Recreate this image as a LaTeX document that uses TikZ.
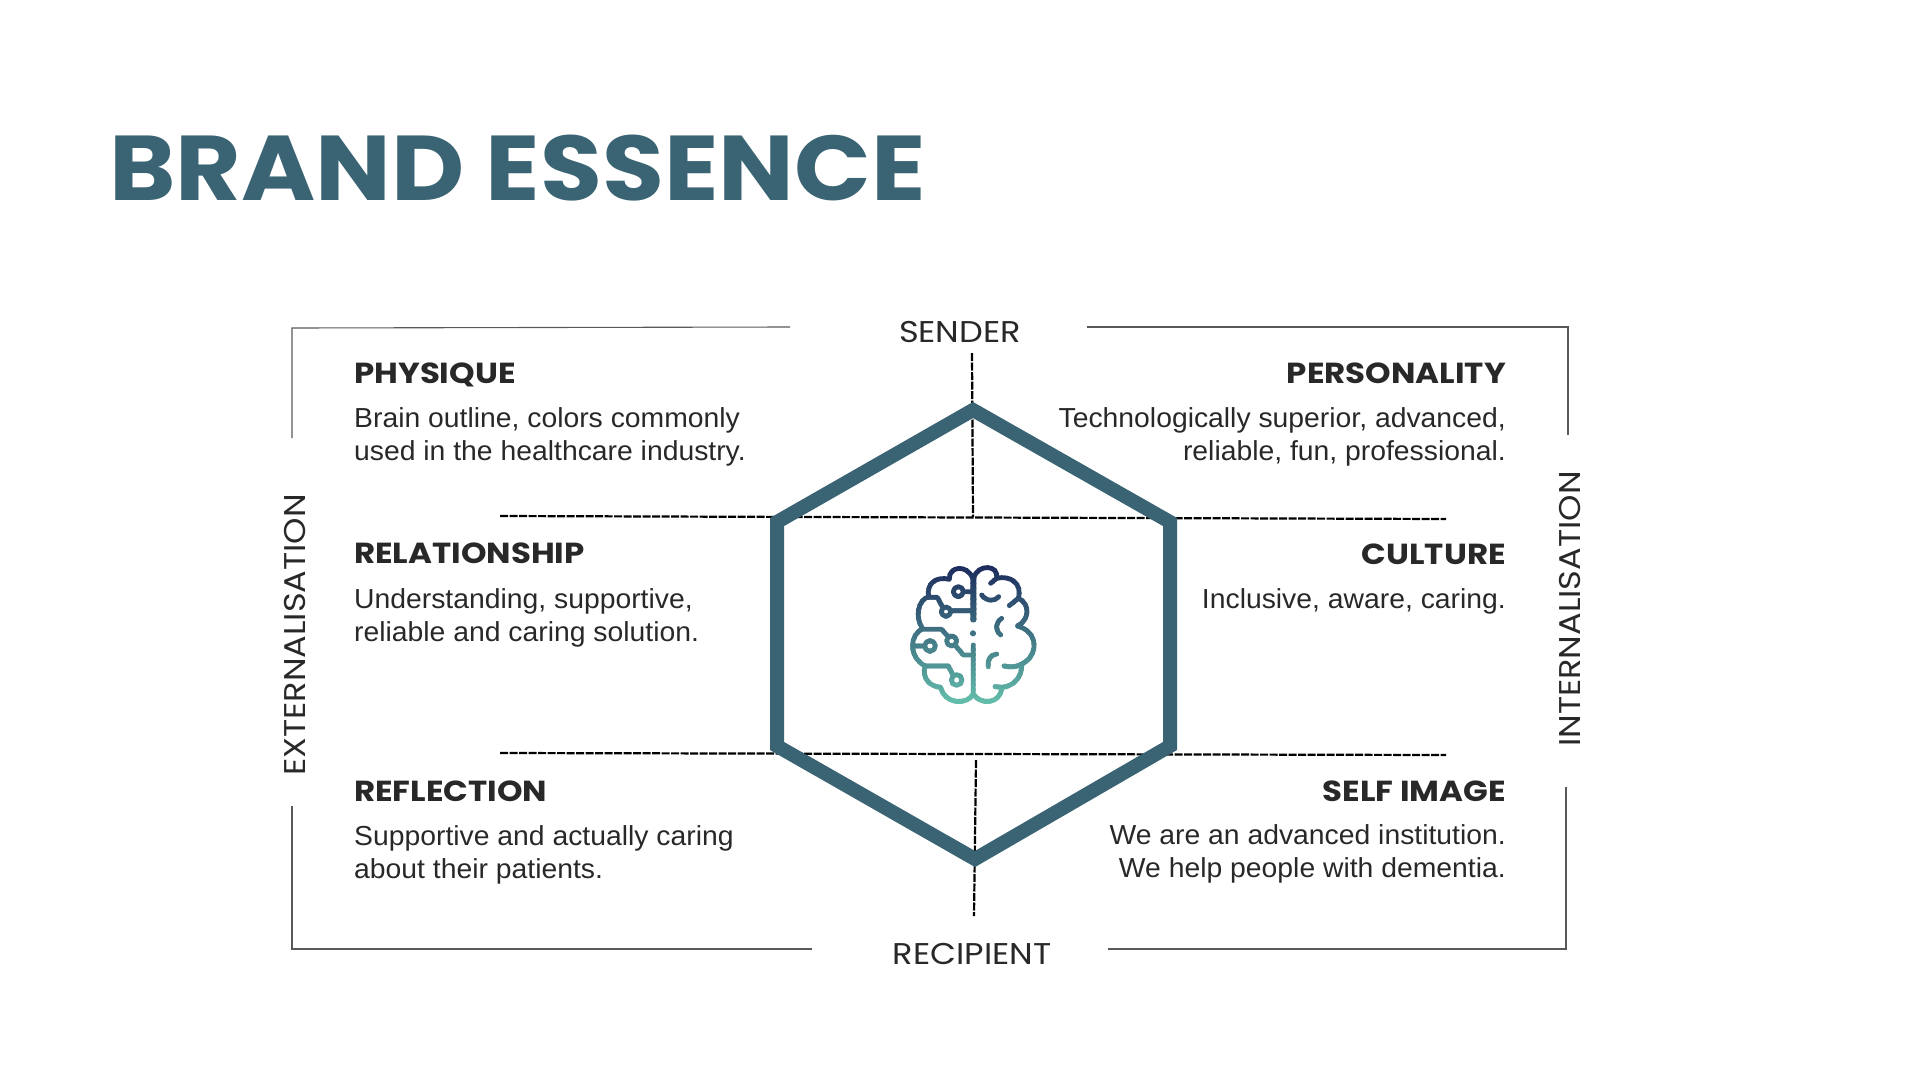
\documentclass[tikz,border=0pt]{standalone}
\usepackage{fontspec}
\setmainfont[FakeStretch=1.03]{Liberation Sans}
\newfontfamily\headfont[FakeStretch=1.12]{Poppins}
\newfontfamily\titlefont[FakeStretch=1.095]{Poppins}
\usepackage{xcolor}
\usetikzlibrary{positioning,calc}
\definecolor{hexteal}{RGB}{58,100,115}
\definecolor{inkgray}{RGB}{40,40,40}
\definecolor{brainnavy}{RGB}{28,42,92}
\definecolor{brainmint}{RGB}{104,198,176}
\newcommand{\brainlines}[1]{%
    \draw[#1] (278,240) -- (278,115) .. controls (262,72) and (205,78) .. (208,118)
        .. controls (170,108) and (138,130) .. (146,170) .. controls (112,180) and (105,235) .. (128,266)
        .. controls (88,285) and (85,350) .. (135,378) .. controls (125,415) and (150,440) .. (182,442)
        .. controls (195,495) and (262,495) .. (280,462) -- (280,315);
    \draw[#1] (280,462) .. controls (300,495) and (360,495) .. (366,442)
        .. controls (400,440) and (428,410) .. (425,372) .. controls (475,350) and (478,275) .. (412,258)
        .. controls (450,240) and (450,190) .. (415,175) .. controls (428,130) and (390,105) .. (350,115)
        .. controls (358,75) and (295,70) .. (282,112) -- (282,240);
    \draw[#1] (350,115) -- (332,130);
    \draw[#1] (415,175) -- (388,197);
    \draw[#1] (425,372) .. controls (410,382) and (390,382) .. (372,378);
    \draw[#1] (366,442) -- (345,440);
    \draw[#1] (305,165) .. controls (320,185) and (345,185) .. (356,170);
    \draw[#1] (365,235) .. controls (345,250) and (345,270) .. (362,285);
    \draw[#1] (350,342) .. controls (330,345) and (322,360) .. (325,380);
    \draw[#1] (235,155) circle[radius=15] (250,155) -- (278,155);
    \draw[#1] (198,215) circle[radius=14] (212,212) -- (278,212);
    \draw[#1] (146,172) -- (172,172) -- (189,204);
    \draw[#1] (215,303) circle[radius=15] (205,291) -- (185,268) -- (128,268);
    \draw[#1] (225,315) -- (250,345) -- (280,345);
    \draw[#1] (150,318) circle[radius=16] (134,318) -- (100,318);
    \draw[#1] (230,420) circle[radius=16] (220,407) -- (205,378) -- (135,378);
    \draw[#1] (279,280) circle[radius=2];
}
\begin{document}
\begin{tikzpicture}[x=1pt,y=-1pt,
    headlabel/.style={font=\headfont\bfseries\fontsize{29}{34}\selectfont, text=inkgray, inner sep=0pt},
    bodytext/.style={font=\fontsize{27.5}{33}\selectfont, text=inkgray, inner sep=0pt},
    axislabel/.style={font=\headfont\fontsize{30}{34}\selectfont, text=inkgray, inner sep=0pt},
    frameline/.style={draw=black!65, line width=1.1pt},
    guideline/.style={draw=black, line width=2.2pt, dash pattern=on 8pt off 1.5pt},
    hexline/.style={draw=hexteal, line width=14pt, miter limit=10}
]
    \useasboundingbox (0,0) rectangle (1920,1071);
    \node[font=\titlefont\bfseries\fontsize{92}{100}\selectfont, text=hexteal, inner sep=0pt, anchor=base west] (title) at (109,200) {BRAND ESSENCE};

    % corners of the frame and ends of the guides
    \coordinate (tl) at (292,328);
    \coordinate (tr) at (1568,327);
    \coordinate (bl) at (292,949);
    \coordinate (br) at (1566,949);
    \draw[frameline] (790,327) -- (tl) -- (292,438);
    \draw[frameline] (1087,327) -- (tr) -- (1568,435);
    \draw[frameline] (812,949) -- (bl) -- (292,806);
    \draw[frameline] (1108,949) -- (br) -- (1566,787);

    \coordinate (hn) at (973,410);
    \coordinate (hne) at (1170,522);
    \coordinate (hse) at (1170,746);
    \coordinate (hs) at (975,859);
    \coordinate (hsw) at (777,746);
    \coordinate (hnw) at (777,522);
    \coordinate (gul) at (500,516);
    \coordinate (gur) at (1446,519);
    \coordinate (gll) at (500,753);
    \coordinate (glr) at (1446,755);
    \coordinate (gtop) at (972,353);
    \coordinate (gtopend) at (973,517);
    \coordinate (gbot) at (976,760);
    \coordinate (gbotend) at (974,916);
    \draw[guideline] (gul) -- (gur);
    \draw[guideline] (gll) -- (glr);
    \draw[guideline] (gtop) -- (gtopend);
    \draw[guideline] (gbot) -- (gbotend);
    \draw[hexline] (hn) -- (hne) -- (hse) -- (hs) -- (hsw) -- (hnw) -- cycle;

    % brain drawn in thin bands for the colour run
    \foreach \band in {0,1,...,29}{
        \pgfmathsetmacro{\mixval}{100-\band*100/29}
        \colorlet{bandcolor}{brainnavy!\mixval!brainmint}
        \begin{scope}[shift={(880,540)},x=0.3333pt,y=-0.3333pt]
            \clip (60,{70+\band*15}) rectangle (500,{70+(\band+1)*15.3});
            \brainlines{draw=bandcolor, line width=4.8pt, line cap=round, line join=round}
        \end{scope}
    }

    \node[axislabel, anchor=base] (sender) at (960,342) {SENDER};
    \node[axislabel, anchor=base] (recipient) at (972,964) {RECIPIENT};
    \node[axislabel, rotate=90] (externalisation) at (295,635) {EXTERNALISATION};
    \node[axislabel, rotate=90] (internalisation) at (1570,609) {INTERNALISATION};

    \node[headlabel, anchor=base west] (physique) at (354,383) {PHYSIQUE};
    \node[bodytext, anchor=base west, align=left] (physiquetxt) at (354,460) {Brain outline, colors commonly\\used in the healthcare industry.};
    \node[headlabel, anchor=base west] (relationship) at (354,563) {RELATIONSHIP};
    \node[bodytext, anchor=base west, align=left] (relationshiptxt) at (354,641) {Understanding, supportive,\\reliable and caring solution.};
    \node[headlabel, anchor=base west] (reflection) at (354,801) {REFLECTION};
    \node[bodytext, anchor=base west, align=left] (reflectiontxt) at (354,878) {Supportive and actually caring\\about their patients.};

    \node[headlabel, anchor=base east] (personality) at (1506,383) {PERSONALITY};
    \node[bodytext, anchor=base east, align=right] (personalitytxt) at (1506,460) {Technologically superior, advanced,\\reliable, fun, professional.};
    \node[headlabel, anchor=base east] (culture) at (1506,564) {CULTURE};
    \node[bodytext, anchor=base east, align=right] (culturetxt) at (1506,608) {Inclusive, aware, caring.};
    \node[headlabel, anchor=base east] (selfimage) at (1506,801) {SELF IMAGE};
    \node[bodytext, anchor=base east, align=right] (selfimagetxt) at (1506,877) {We are an advanced institution.\\We help people with dementia.};
\end{tikzpicture}
\end{document}
